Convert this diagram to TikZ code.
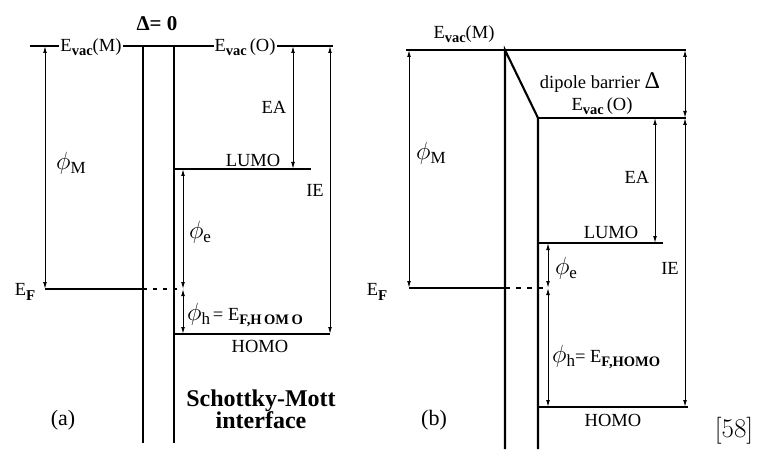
\documentclass[tikz,border=0pt]{standalone}
\usepackage{fontspec}
\newfontfamily\tms{Liberation Serif}
\usetikzlibrary{arrows.meta}
\newcommand\fsz[1]{\fontsize{#1}{#1}\selectfont}
\newcommand\sbb[1]{\raisebox{-0.45ex}{\fsz{14.5}\bfseries #1}}
\tikzset{
  thick line/.style={line width=2.8pt},
  thin line/.style={line width=1.2pt},
  dbl/.style={line width=1pt,{Latex[length=7pt,width=3.8pt]}-{Latex[length=7pt,width=3.8pt]}},
  lbl/.style={font=\tms\fsz{18.5}, inner sep=1pt},
  mlbl/.style={font=\tms\fsz{23}, inner sep=1pt},
}
\begin{document}
\begin{tikzpicture}[x=1pt,y=-1pt]
\useasboundingbox (0,0) rectangle (759,454);
% ---------- panel (a) ----------
\coordinate (aVL) at (30,46);
\coordinate (aBL) at (143,46);
\coordinate (aBR) at (174,46);
\coordinate (aVR) at (333,46);
\coordinate (aBLb) at (143,443);
\coordinate (aBRb) at (174,443);
\coordinate (aMx) at (45,46);
\coordinate (aEF) at (45,289);
\coordinate (aEFr) at (143,289);
\coordinate (aDs) at (183,289);
\coordinate (aLl) at (174,169);
\coordinate (aLr) at (311,169);
\coordinate (aEAt) at (293,46);
\coordinate (aEAb) at (293,169);
\coordinate (aIEt) at (330,46);
\coordinate (aIEb) at (330,334);
\coordinate (aHl) at (174,334);
\coordinate (aHm) at (313,334);
\coordinate (aPe) at (183,169);
\coordinate (aPh) at (183,334);

\draw[thin line] (aVL) -- (aBL);
\draw[thin line] (aBR) -- (aVR);
\draw[thick line] (aBLb) -- (aBL) -- (aBR) -- (aBRb);
\draw[thick line] (aEF) -- (aEFr);
\draw[thick line] (aLl) -- (aLr);
\draw[thick line] (aHl) -- (aHm);
\draw[thin line] (aHm) -- (aIEb);
\draw[thin line,dashed,dash pattern=on 4pt off 6pt] (aEFr) -- (aDs);
\draw[dbl] (aMx) -- (aEF);
\draw[dbl] (aEAt) -- (aEAb);
\draw[dbl] (aIEt) -- (aIEb);
\draw[dbl] (aPe) -- (aDs);
\draw[dbl] (aDs) -- (aPh);

\node[lbl,fill=white] (aEvM) at (91,47) {E\sbb{vac}(M)};
\node[lbl,fill=white] (aEvO) at (245,47) {E\sbb{vac}\,(O)};
\node[font=\tms\bfseries\fsz{21},inner sep=1pt] (aDelta) at (157,24) {Δ= 0};
\node[mlbl] (aphiM) at (71,163) {$\phi$\fsz{17}\raisebox{-0.5ex}{M}};
\node[lbl] (aEFl) at (25,292) {E\raisebox{-0.5ex}{\fsz{15}\bfseries F}};
\node[lbl] (aLUMO) at (253,160) {LUMO};
\node[lbl] (aEA) at (274,107) {EA};
\node[lbl] (aIE) at (315,190) {IE};
\node[mlbl] (aphie) at (200,232) {$\phi$\fsz{17}\raisebox{-0.5ex}{e}};
\node[lbl,anchor=west] (aphih) at (186,315) {\fsz{23}$\phi$\fsz{17}\raisebox{-0.5ex}{h}\,\fsz{18.5}= E\sbb{F,H\,OM\,O}};
\node[lbl] (aHOMO) at (260,346) {HOMO};
\node[font=\tms\bfseries\fsz{24},inner sep=1pt,align=center] (aSM) at (261,409) {Schottky-Mott\\[-2pt]interface};
\node[lbl,font=\tms\fsz{22}] (alab) at (63,420) {(a)};

% ---------- panel (b) ----------
\coordinate (bVL) at (406,50);
\coordinate (bMT) at (505,50);
\coordinate (bVR) at (686,50);
\coordinate (bOT) at (538,118);
\coordinate (bOR) at (686,118);
\coordinate (bMB) at (505,449);
\coordinate (bOB) at (538,449);
\coordinate (bMx) at (409,50);
\coordinate (bEF) at (409,288);
\coordinate (bEFr) at (505,288);
\coordinate (bDs) at (548,288);
\coordinate (bLl) at (538,243);
\coordinate (bLr) at (663,243);
\coordinate (bHl) at (538,407);
\coordinate (bHm) at (660,407);
\coordinate (bHr) at (688,407);
\coordinate (bDt) at (685,50);
\coordinate (bDb) at (685,118);
\coordinate (bEAt) at (655,118);
\coordinate (bEAb) at (655,243);
\coordinate (bIEt) at (685,118);
\coordinate (bIEb) at (685,407);
\coordinate (bPe) at (548,243);
\coordinate (bPh) at (548,407);

\draw[thin line] (bVL) -- (bVR);
\draw[thin line] (bOT) -- (bOR);
\draw[line width=2.1pt] (bMB) -- (bMT) -- (bOT) -- (bOB);
\draw[thick line] (bEF) -- (bEFr);
\draw[thick line] (bLl) -- (bLr);
\draw[thick line] (bHl) -- (bHm);
\draw[thin line] (bHm) -- (bHr);
\draw[thin line,dashed,dash pattern=on 5pt off 6pt] (bEFr) -- (bDs);
\draw[dbl] (bMx) -- (bEF);
\draw[dbl] (bDt) -- (bDb);
\draw[dbl] (bEAt) -- (bEAb);
\draw[dbl] (bIEt) -- (bIEb);
\draw[dbl] (bPe) -- (bDs);
\draw[dbl] (bDs) -- (bPh);

\node[lbl] (bEvM) at (464,34) {E\sbb{vac}(M)};
\node[lbl] (bDip) at (600,83) {dipole barrier \fsz{24}Δ};
\node[lbl] (bEvO) at (602,106) {E\sbb{vac}\,(O)};
\node[mlbl] (bphiM) at (431,153) {$\phi$\fsz{17}\raisebox{-0.5ex}{M}};
\node[lbl] (bEA) at (637,177) {EA};
\node[lbl] (bLUMO) at (611,232) {LUMO};
\node[lbl] (bIE) at (670,268) {IE};
\node[lbl] (bEFl) at (377,292) {E\raisebox{-0.5ex}{\fsz{15}\bfseries F}};
\node[mlbl] (bphie) at (566,268) {$\phi$\fsz{17}\raisebox{-0.5ex}{e}};
\node[lbl,anchor=west] (bphih) at (551,357) {\fsz{23}$\phi$\fsz{17}\raisebox{-0.5ex}{h}\fsz{18.5}= E\sbb{F,HOMO}};
\node[lbl] (bHOMO) at (613,420) {HOMO};
\node[lbl,font=\tms\fsz{22}] (blab) at (434,420) {(b)};
\node[font=\fsz{27},inner sep=0pt] (ref) at (734,431) {[58]};
\end{tikzpicture}
\end{document}
